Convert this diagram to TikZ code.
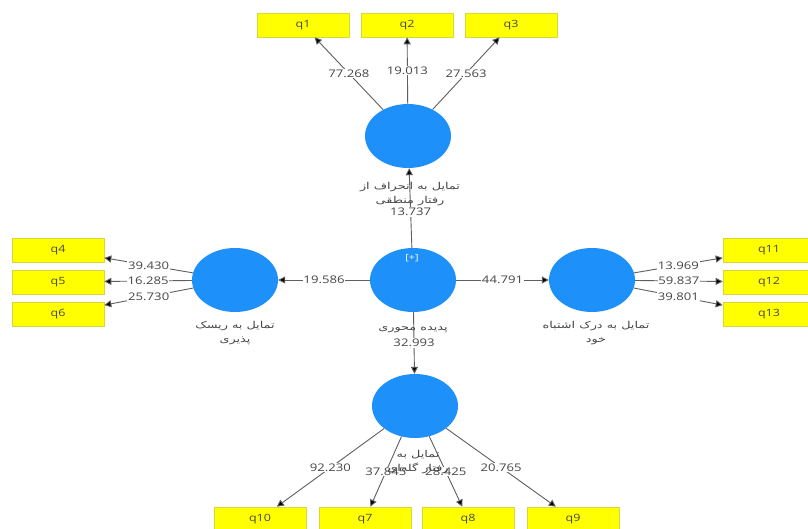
\documentclass[tikz,border=0pt]{standalone}
\usepackage{fontspec}
\usetikzlibrary{shapes.geometric,arrows.meta}
\TeXXeTstate=1
\newfontfamily\numfont[FakeStretch=1.25]{Open Sans}
\newfontfamily\fafont[Script=Arabic,FakeStretch=1.35]{DejaVu Sans}
\definecolor{lvblue}{RGB}{30,144,250}
\definecolor{mvyellow}{RGB}{255,255,0}
\definecolor{mvborder}{RGB}{215,215,60}
\definecolor{linegray}{RGB}{95,95,95}
\definecolor{txtgray}{RGB}{70,70,70}
\begin{document}
\begin{tikzpicture}[x=1pt,y=-1pt,
  lv/.style={ellipse, fill=lvblue, minimum width=86pt, minimum height=64pt, inner sep=0pt},
  mv/.style={rectangle, fill=mvyellow, draw=mvborder, line width=0.6pt, minimum width=92pt, minimum height=24pt, inner sep=0pt, font=\numfont\fontsize{10}{12}\selectfont, text=txtgray},
  ld/.style={draw=linegray, line width=0.9pt, -{Triangle[length=7pt,width=7pt,fill=black]}},
  num/.style={fill=white, inner sep=0.8pt, font=\numfont\fontsize{10.5}{12}\selectfont, text=txtgray},
  fa/.style={font=\fafont\fontsize{9.5}{13.5}\selectfont, align=center, text=txtgray, inner sep=0pt}
]
\useasboundingbox[fill=white] (0,0) rectangle (808,529);

% latent variables
\node[lv] (T) at (408,136) {};
\node[lv] (C) at (413,280) {};
\node[lv] (L) at (235,280) {};
\node[lv] (R) at (592,280) {};
\node[lv] (B) at (415,406) {};
\node[font=\numfont\fontsize{8.5}{9}\selectfont, text=white] (plus) at (412,258) {[+]};

% indicators
\node[mv] (q1) at (303,25) {q1};
\node[mv] (q2) at (407,25) {q2};
\node[mv] (q3) at (511,25) {q3};
\node[mv] (q4) at (58,250) {q4};
\node[mv] (q5) at (58,282) {q5};
\node[mv] (q6) at (58,314) {q6};
\node[mv] (q11) at (769,250) {q11};
\node[mv] (q12) at (769,282) {q12};
\node[mv] (q13) at (769,314) {q13};
\node[mv] (q10) at (260,519) {q10};
\node[mv] (q7) at (365,519) {q7};
\node[mv] (q8) at (468,519) {q8};
\node[mv] (q9) at (573,519) {q9};

% structural paths
\draw[ld] (C) -- node[num, pos=0.45] {13.737} (T);
\draw[ld] (C) -- node[num] {19.586} (L);
\draw[ld] (C) -- node[num] {44.791} (R);
\draw[ld] (C) -- node[num, pos=0.5] {32.993} (B);

% loadings
\draw[ld] (T) -- node[num] {77.268} (q1);
\draw[ld] (T) -- node[num] {19.013} (q2);
\draw[ld] (T) -- node[num] {27.563} (q3);
\draw[ld] (L) -- node[num] {39.430} (q4);
\draw[ld] (L) -- node[num] {16.285} (q5);
\draw[ld] (L) -- node[num] {25.730} (q6);
\draw[ld] (R) -- node[num] {13.969} (q11);
\draw[ld] (R) -- node[num] {59.837} (q12);
\draw[ld] (R) -- node[num] {39.801} (q13);
\draw[ld] (B) -- node[num] {92.230} (q10);
\draw[ld] (B) -- node[num] {37.845} (q7);
\draw[ld] (B) -- node[num] {28.425} (q8);
\draw[ld] (B) -- node[num] {20.765} (q9);

% construct names
\node[fa] (Tn) at (410,194) {\beginR تمایل به انحراف از\endR\\ \beginR رفتار منطقی\endR};
\node[fa] (Cn) at (413,330) {\beginR پدیده محوری\endR};
\node[fa] (Ln) at (235,333) {\beginR تمایل به ریسک\endR\\ \beginR پذیری\endR};
\node[fa] (Rn) at (596,333) {\beginR تمایل به درک اشتباه\endR\\ \beginR خود\endR};
\node[fa] (Bn) at (418,462) {\beginR تمایل به\endR\\ \beginR رفتار گله‌ای\endR};
\end{tikzpicture}
\end{document}
